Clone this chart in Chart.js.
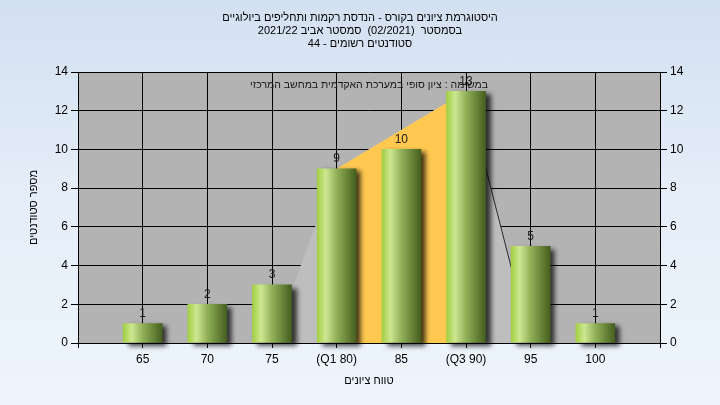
<!DOCTYPE html>
<html>
<head>
<meta charset="utf-8">
<script src="https://cdn.jsdelivr.net/npm/chart.js@4.4.0/dist/chart.umd.min.js"></script>
<style>
html, body { margin: 0; padding: 0; }
body { width: 720px; height: 405px; background: linear-gradient(to bottom, #d3e0f1 0%, #e4edf8 45%, #eef5fc 100%); }
#wrap { position: relative; width: 720px; height: 405px; }
</style>
</head>
<body>
<div id="wrap"><canvas id="myChart"></canvas></div>
<script>
const gradeLabels = ['', '65', '70', '75', '(Q1 80)', '85', '(Q3 90)', '95', '100', ''];
const studentCounts = [null, 1, 2, 3, 9, 10, 13, 5, 1, null];
const spreadArea = [null, null, null, 0, 9, null, 13, 0, null, null];
const quartileArea = [null, null, null, null, 9, null, 13, null, null, null];
const yTicks = [0, 2, 4, 6, 8, 10, 12, 14];

const titleLines = [
    'היסטוגרמת ציונים בקורס - הנדסת רקמות ותחליפים ביולוגיים',
    'בסמסטר  (02/2021)  סמסטר אביב 2021/22',
    'סטודנטים רשומים - 44'
];
const taskLine = 'במשימה : ציון סופי במערכת האקדמית במחשב המרכזי';

Chart.defaults.font.family = "'Liberation Sans', Arial, sans-serif";
Chart.defaults.font.size = 12;
Chart.defaults.color = '#000';

// green cylinder look, one gradient per bar
function barFill(c) {
    const chart = c.chart;
    if (!chart.chartArea || c.type !== 'data') return '#8fb24a';
    const x = chart.scales.x.getPixelForValue(c.dataIndex);
    const g = chart.ctx.createLinearGradient(x - 19.5, 0, x + 19.5, 0);
    g.addColorStop(0, '#a2cf42');
    g.addColorStop(0.22, '#cde791');
    g.addColorStop(0.5, '#92b058');
    g.addColorStop(1, '#465f1f');
    return g;
}

const plotBack = {
    id: 'plotBack',
    beforeDraw(chart) {
        const {ctx, chartArea: {left, top, width, height}} = chart;
        ctx.save();
        ctx.fillStyle = '#b3b3b3';
        ctx.fillRect(left, top, width, height);
        ctx.restore();
    }
};

const barShadow = {
    id: 'barShadow',
    beforeDatasetDraw(chart, args) {
        if (args.meta.type !== 'bar') return;
        const ctx = chart.ctx;
        ctx.save();
        ctx.shadowColor = 'rgba(0,0,0,0.75)';
        ctx.shadowBlur = 5;
        ctx.shadowOffsetX = 5;
        ctx.shadowOffsetY = 3;
    },
    afterDatasetDraw(chart, args) {
        if (args.meta.type !== 'bar') return;
        chart.ctx.restore();
    }
};

const valueLabels = {
    id: 'valueLabels',
    afterDatasetsDraw(chart) {
        const {ctx, chartArea} = chart;
        const meta = chart.getDatasetMeta(0);
        ctx.save();
        ctx.font = "12px 'Liberation Sans', Arial, sans-serif";
        ctx.fillStyle = '#1a1a1a';
        ctx.textAlign = 'center';
        ctx.textBaseline = 'bottom';
        meta.data.forEach((bar, i) => {
            const v = studentCounts[i];
            if (v === null) return;
            ctx.fillText(String(v), bar.x, bar.y - 4);
        });
        ctx.font = "10.5px 'Liberation Sans', Arial, sans-serif";
        ctx.textBaseline = 'middle';
        ctx.fillText(taskLine, (chartArea.left + chartArea.right) / 2, chartArea.top + 13);
        ctx.restore();
    }
};

const config = {
    type: 'bar',
    data: {
        labels: gradeLabels,
        datasets: [
            {
                type: 'bar',
                data: studentCounts,
                backgroundColor: barFill,
                barThickness: 39,
                borderWidth: 0,
                clip: false,
                order: 1
            },
            {
                type: 'line',
                data: quartileArea,
                spanGaps: true,
                fill: 'origin',
                backgroundColor: '#ffc951',
                borderWidth: 0,
                pointRadius: 0,
                order: 2
            },
            {
                type: 'line',
                data: spreadArea,
                spanGaps: true,
                fill: 'origin',
                backgroundColor: '#bebebe',
                borderWidth: 1,
                borderColor: 'transparent',
                segment: {
                    borderColor: c => c.p0DataIndex === 6 ? '#2a2a2a' : 'transparent'
                },
                pointRadius: 0,
                order: 3
            }
        ]
    },
    options: {
        responsive: true,
        maintainAspectRatio: false,
        animation: false,
        layout: { padding: 0 },
        scales: {
            x: {
                type: 'category',
                offset: false,
                grid: { color: '#000', offset: false, tickLength: 5 },
                border: { color: '#000' },
                ticks: { padding: 4, autoSkip: false, maxRotation: 0 },
                title: { display: true, text: 'טווח ציונים', font: { size: 11 }, padding: { bottom: 17, top: 0 } },
                afterFit(s) { s.height = 62; }
            },
            y: {
                position: 'left',
                min: yTicks[0],
                max: yTicks[yTicks.length - 1],
                ticks: { stepSize: 2, padding: 3 },
                grid: { color: '#000', tickLength: 7 },
                border: { color: '#000' },
                title: { display: true, text: 'מספר סטודנטים', font: { size: 11 }, padding: { top: 27, bottom: 0 } },
                afterFit(s) { s.width = 78; }
            },
            y2: {
                position: 'right',
                min: yTicks[0],
                max: yTicks[yTicks.length - 1],
                ticks: { stepSize: 2, padding: 3 },
                grid: { color: '#000', tickLength: 7, drawOnChartArea: false },
                border: { color: '#000' },
                afterFit(s) { s.width = 60; }
            }
        },
        plugins: {
            legend: { display: false },
            tooltip: { enabled: false },
            title: {
                display: true,
                text: titleLines,
                color: '#000',
                font: { size: 11, weight: 'normal', lineHeight: '13px' },
                padding: { top: 11, bottom: 22 }
            }
        }
    },
    plugins: [plotBack, barShadow, valueLabels]
};

var myChart = new Chart(document.getElementById('myChart'), config);
</script>
</body>
</html>
